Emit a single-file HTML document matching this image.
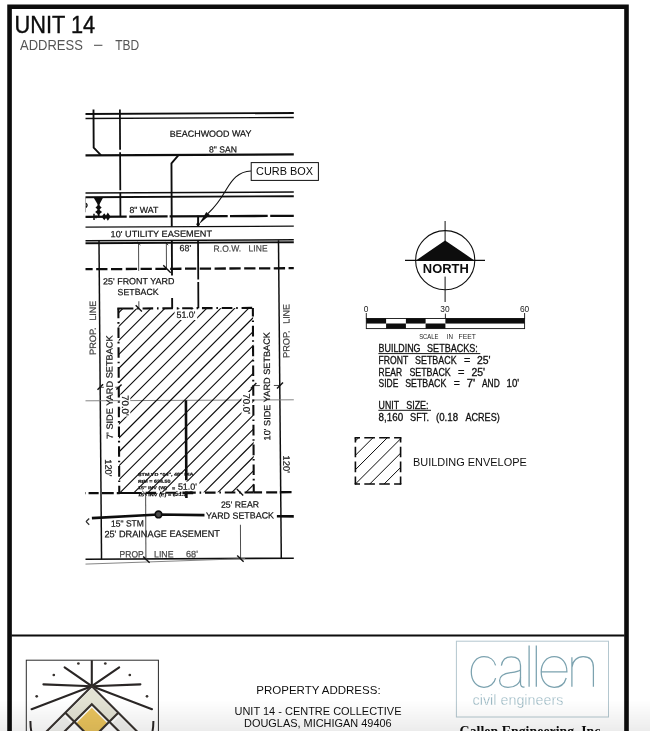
<!DOCTYPE html>
<html><head><meta charset="utf-8"><title>Unit 14</title>
<style>
html,body{margin:0;padding:0;background:#fff;}
body{width:650px;height:731px;overflow:hidden;font-family:"Liberation Sans",sans-serif;}
svg{display:block;}
svg text{font-family:"Liberation Sans",sans-serif;}
</style></head><body>
<svg width="650" height="731" viewBox="0 0 650 731">
<defs>
<clipPath id="vp"><rect x="85.5" y="109.6" width="208.3" height="456"/></clipPath>
<clipPath id="env"><polygon points="118.4,308.5 253.1,307.9 253.9,492.0 119.2,492.8"/></clipPath>
<clipPath id="leg"><rect x="355.4" y="437.8" width="45.2" height="46.2"/></clipPath>
<clipPath id="logoclip"><rect x="26.3" y="660.2" width="132" height="71"/></clipPath>
<filter id="soft" x="0" y="0" width="650" height="731" filterUnits="userSpaceOnUse"><feGaussianBlur stdDeviation="0.45"/></filter>
<linearGradient id="shade" x1="0" y1="0" x2="0" y2="1">
<stop offset="0" stop-color="#000" stop-opacity="0"/>
<stop offset="1" stop-color="#000" stop-opacity="0.075"/>
</linearGradient>
</defs>
<rect width="650" height="731" fill="#fff"/>
<g filter="url(#soft)">
<rect width="650" height="731" fill="#fff"/>

<!-- frame -->
<path d="M9.55 731 V6.75 H626.5 V731" fill="none" stroke="#0a0a0a" stroke-width="4.6" stroke-linejoin="miter"/>
<line x1="11.50" y1="635.40" x2="624.50" y2="635.40" stroke="#0a0a0a" stroke-width="2.0" />
<text x="14.60" y="32.90" font-size="23" fill="#0a0a0a" textLength="80.60" lengthAdjust="spacingAndGlyphs" stroke="#0a0a0a" stroke-width="0.35">UNIT 14</text>
<text x="20.00" y="50.30" font-size="14.4" fill="#555" textLength="62.80" lengthAdjust="spacingAndGlyphs" >ADDRESS</text>
<line x1="94.00" y1="45.30" x2="102.40" y2="45.30" stroke="#555" stroke-width="1.1" />
<text x="115.20" y="50.30" font-size="14.4" fill="#555" textLength="24.00" lengthAdjust="spacingAndGlyphs" >TBD</text>
<g clip-path="url(#vp)"><g transform="rotate(-0.28 190.0 335.0)">
<line x1="60.00" y1="113.50" x2="320.00" y2="113.50" stroke="#111" stroke-width="1.9" />
<line x1="60.00" y1="118.00" x2="320.00" y2="118.00" stroke="#111" stroke-width="1.3" />
<line x1="60.00" y1="154.90" x2="320.00" y2="154.90" stroke="#111" stroke-width="2.1" />
<line x1="60.00" y1="192.50" x2="320.00" y2="192.50" stroke="#111" stroke-width="1.5" />
<line x1="60.00" y1="196.70" x2="320.00" y2="196.70" stroke="#111" stroke-width="1.9" />
<path d="M60 216.3 H127.3 M129.8 216.3 H168.2 M170.2 216.3 H228.3 M230.6 216.3 H268.3 M270.8 216.3 H320" stroke="#111" stroke-width="2.3" fill="none"/>
<line x1="60.00" y1="226.60" x2="320.00" y2="226.60" stroke="#111" stroke-width="1.2" />
<line x1="60.00" y1="240.30" x2="320.00" y2="240.30" stroke="#111" stroke-width="1.6" />
<line x1="60.00" y1="242.70" x2="320.00" y2="242.70" stroke="#111" stroke-width="1.9" />
<path d="M94.6 100 V147.2 L102 154.9" fill="none" stroke="#111" stroke-width="1.9"/>
<path d="M121 100 V149.3 M121 151.8 V189.8 M121 192.2 V216" fill="none" stroke="#111" stroke-width="1.8"/>
<path d="M179.6 154.9 L172.3 163.2 V226.6 M172.3 240.1 V275.5 M172.3 298 V308.2" fill="none" stroke="#111" stroke-width="1.9"/>
<path d="M198.5 240.6 V279.5 M198.5 282 V308.2" fill="none" stroke="#111" stroke-width="1.8"/>
<polygon points="94.4,197.2 103.8,197.2 100.2,203.8 98.2,203.8" fill="#111"/>
<path d="M99.2 203 V216" stroke="#111" stroke-width="2.0"/>
<polygon points="99.2,204.4 102.3,207 99.9,209.2 102.7,211.6 99.2,214.2 95.7,211.6 98.5,209.2 96.1,207" fill="#111"/>
<polygon points="102.2,216.3 104.8,212.8 106.6,215 108.4,212.2 111.2,216.3 108.4,220.4 106.6,217.6 104.8,219.8" fill="#111"/>
<line x1="94.60" y1="213.20" x2="94.60" y2="219.60" stroke="#111" stroke-width="1.5" />
<line x1="96.60" y1="214.60" x2="96.60" y2="218.00" stroke="#111" stroke-width="0.9" />
<line x1="86.00" y1="197.00" x2="86.00" y2="211.80" stroke="#444" stroke-width="1.0" />
<path d="M86.6 202.8 q2.2 2 0 4.2" stroke="#111" stroke-width="1.4" fill="none"/>
<line x1="99.45" y1="240.60" x2="100.45" y2="558.70" stroke="#111" stroke-width="1.5" />
<line x1="278.95" y1="240.60" x2="280.20" y2="558.70" stroke="#111" stroke-width="1.5" />
<line x1="81.7" y1="268.7" x2="320" y2="268.7" stroke="#111" stroke-width="2.3" stroke-dasharray="11.3 3.5"/>
<line x1="139.00" y1="242.50" x2="139.00" y2="270.60" stroke="#222" stroke-width="0.8" />
<line x1="166.80" y1="242.50" x2="166.80" y2="269.00" stroke="#222" stroke-width="0.8" />
<line x1="163.62" y1="265.19" x2="171.02" y2="272.59" stroke="#111" stroke-width="1.4" />
<line x1="137.65" y1="241.65" x2="140.85" y2="244.85" stroke="#111" stroke-width="0.9" />
<line x1="165.45" y1="241.79" x2="168.65" y2="244.99" stroke="#111" stroke-width="0.9" />
<line x1="139.00" y1="301.00" x2="139.00" y2="308.00" stroke="#222" stroke-width="0.8" />
<line x1="135.83" y1="305.05" x2="142.03" y2="311.25" stroke="#111" stroke-width="1.4" />
<line x1="60.00" y1="400.30" x2="320.00" y2="400.30" stroke="#777" stroke-width="0.9" />
<line x1="60.00" y1="558.70" x2="320.00" y2="558.70" stroke="#111" stroke-width="1.6" />
<path d="M60 564.3 L244 558.9" stroke="#777" stroke-width="0.9" fill="none"/>
<path d="M80 492.7 H85.2 M87.8 492.7 H97.9 M101.2 492.7 H113 M116 492.7 H119 M253 492.7 H261.3 M265.4 492.7 H276.4 M279 492.7 H290.8 M293.5 492.7 H300" stroke="#111" stroke-width="2.3" fill="none"/>
</g></g>
<g clip-path="url(#env)" stroke="#0a0a0a" stroke-width="1.1">
<line x1="-82.60" y1="500" x2="117.40" y2="300"/>
<line x1="-68.65" y1="500" x2="131.35" y2="300"/>
<line x1="-54.70" y1="500" x2="145.30" y2="300"/>
<line x1="-40.75" y1="500" x2="159.25" y2="300"/>
<line x1="-26.80" y1="500" x2="173.20" y2="300"/>
<line x1="-12.85" y1="500" x2="187.15" y2="300"/>
<line x1="1.10" y1="500" x2="201.10" y2="300"/>
<line x1="15.05" y1="500" x2="215.05" y2="300"/>
<line x1="29.00" y1="500" x2="229.00" y2="300"/>
<line x1="42.95" y1="500" x2="242.95" y2="300"/>
<line x1="56.90" y1="500" x2="256.90" y2="300"/>
<line x1="70.85" y1="500" x2="270.85" y2="300"/>
<line x1="84.80" y1="500" x2="284.80" y2="300"/>
<line x1="98.75" y1="500" x2="298.75" y2="300"/>
<line x1="112.70" y1="500" x2="312.70" y2="300"/>
<line x1="126.65" y1="500" x2="326.65" y2="300"/>
<line x1="140.60" y1="500" x2="340.60" y2="300"/>
<line x1="154.55" y1="500" x2="354.55" y2="300"/>
<line x1="168.50" y1="500" x2="368.50" y2="300"/>
<line x1="182.45" y1="500" x2="382.45" y2="300"/>
<line x1="196.40" y1="500" x2="396.40" y2="300"/>
<line x1="210.35" y1="500" x2="410.35" y2="300"/>
<line x1="224.30" y1="500" x2="424.30" y2="300"/>
<line x1="238.25" y1="500" x2="438.25" y2="300"/>
<line x1="252.20" y1="500" x2="452.20" y2="300"/>
</g>
<rect x="174.6" y="309.4" width="22.6" height="10.6" fill="#fff"/>
<rect x="176.6" y="481.6" width="22.8" height="9.8" fill="#fff"/>
<rect x="120.2" y="394.5" width="10.1" height="22" fill="#fff"/>
<rect x="241.5" y="392" width="10.7" height="22.5" fill="#fff"/>
<g clip-path="url(#vp)"><g transform="rotate(-0.28 190.0 335.0)">
<path d="M118.5 308.2 V492.6" fill="none" stroke="#111" stroke-width="2.1" stroke-dasharray="10.6 3.8 1.6 3.8" stroke-dashoffset="0.9"/>
<path d="M253 308.2 V492.6" fill="none" stroke="#111" stroke-width="2.1" stroke-dasharray="10.6 3.8 1.6 3.8" stroke-dashoffset="1.9"/>
<path d="M117.45 308.2 H123 M117.45 492.7 H141" fill="none" stroke="#111" stroke-width="2.1"/>
<path d="M122.9 308.2 H254.05" fill="none" stroke="#111" stroke-width="2.1" stroke-dasharray="10.6 3.8 1.6 3.8"/>
<path d="M144.8 492.7 H253" fill="none" stroke="#111" stroke-width="2.1" stroke-dasharray="10.6 3.8 1.6 3.8"/>
<path d="M185.6 400.3 V480.2 M185.6 491.5 V498" fill="none" stroke="#111" stroke-width="2.6"/>
<line x1="181.60" y1="492.80" x2="192.40" y2="492.80" stroke="#111" stroke-width="2.8" />
<line x1="100.00" y1="386.90" x2="103.60" y2="386.90" stroke="#222" stroke-width="0.8" />
<line x1="115.00" y1="386.90" x2="118.50" y2="386.90" stroke="#222" stroke-width="0.8" />
<line x1="97.25" y1="389.36" x2="102.85" y2="383.76" stroke="#111" stroke-width="1.4" />
<line x1="116.15" y1="389.25" x2="121.35" y2="384.05" stroke="#111" stroke-width="1.4" />
<line x1="253.00" y1="385.90" x2="259.60" y2="385.90" stroke="#222" stroke-width="0.8" />
<line x1="273.60" y1="385.90" x2="279.60" y2="385.90" stroke="#222" stroke-width="0.8" />
<line x1="250.55" y1="388.81" x2="256.15" y2="383.21" stroke="#111" stroke-width="1.4" />
<line x1="276.75" y1="388.94" x2="282.75" y2="382.94" stroke="#111" stroke-width="1.4" />
<line x1="144.80" y1="492.70" x2="144.80" y2="560.00" stroke="#666" stroke-width="1.2" />
<line x1="142.10" y1="556.19" x2="148.50" y2="562.59" stroke="#111" stroke-width="1.4" />
<line x1="141.43" y1="490.58" x2="146.23" y2="495.38" stroke="#111" stroke-width="0.9" />
<line x1="239.50" y1="525.00" x2="239.50" y2="558.70" stroke="#222" stroke-width="0.8" />
<line x1="236.11" y1="555.65" x2="242.51" y2="562.05" stroke="#111" stroke-width="1.4" />
<line x1="236.03" y1="489.24" x2="242.43" y2="495.64" stroke="#111" stroke-width="1.4" />
<path d="M91 517.6 L157.5 514.3 L203.6 515.2 M276 516.6 L300 517" fill="none" stroke="#111" stroke-width="2.6"/>
<circle cx="157.6" cy="514.3" r="3.3" fill="#4a4a4a" stroke="#111" stroke-width="1.7"/>
<path d="M88.3 518.0 L85.2 521.1 L88.3 524.3" fill="none" stroke="#333" stroke-width="1.3"/>
<text x="170.77" y="136.80" font-size="8.9" fill="#111" stroke="#111" stroke-width="0.2" textLength="81.60" lengthAdjust="spacingAndGlyphs" >BEACHWOOD WAY</text>
<text x="209.89" y="152.59" font-size="8.8" fill="#111" stroke="#111" stroke-width="0.2" textLength="28.00" lengthAdjust="spacingAndGlyphs" >8&quot; SAN</text>
<text x="130.00" y="212.80" font-size="8.8" fill="#111" stroke="#111" stroke-width="0.2" textLength="29.00" lengthAdjust="spacingAndGlyphs" >8&quot; WAT</text>
<text x="111.08" y="236.81" font-size="9.1" fill="#111" stroke="#111" stroke-width="0.2" textLength="101.40" lengthAdjust="spacingAndGlyphs" >10' UTILITY EASEMENT</text>
<text x="180.01" y="251.15" font-size="9" fill="#111" stroke="#111" stroke-width="0.2" textLength="11.60" lengthAdjust="spacingAndGlyphs" >68'</text>
<text x="214.01" y="251.82" font-size="9" fill="#444" stroke="#444" stroke-width="0.2" textLength="27.50" lengthAdjust="spacingAndGlyphs" >R.O.W.</text>
<text x="249.01" y="251.79" font-size="9" fill="#444" stroke="#444" stroke-width="0.2" textLength="19.00" lengthAdjust="spacingAndGlyphs" >LINE</text>
<text x="103.25" y="284.07" font-size="9" fill="#111" stroke="#111" stroke-width="0.2" textLength="71.40" lengthAdjust="spacingAndGlyphs" >25' FRONT YARD</text>
<text x="117.79" y="294.85" font-size="9" fill="#111" stroke="#111" stroke-width="0.2" textLength="41.00" lengthAdjust="spacingAndGlyphs" >SETBACK</text>
<text x="176.48" y="317.83" font-size="9" fill="#111" stroke="#111" stroke-width="0.2" textLength="19.20" lengthAdjust="spacingAndGlyphs" >51.0'</text>
<text x="95.90" y="354.54" font-size="9.2" fill="#3a3a3a" stroke="#3a3a3a" stroke-width="0.2" textLength="27.50" lengthAdjust="spacingAndGlyphs" transform="rotate(-90 95.90 354.54)" >PROP.</text>
<text x="96.07" y="320.14" font-size="9.2" fill="#3a3a3a" stroke="#3a3a3a" stroke-width="0.2" textLength="19.80" lengthAdjust="spacingAndGlyphs" transform="rotate(-90 96.07 320.14)" >LINE</text>
<text x="112.39" y="438.62" font-size="9" fill="#111" stroke="#111" stroke-width="0.2" textLength="103.60" lengthAdjust="spacingAndGlyphs" transform="rotate(-90 112.39 438.62)" >7' SIDE YARD SETBACK</text>
<text x="269.78" y="440.79" font-size="9" fill="#111" stroke="#111" stroke-width="0.2" textLength="108.40" lengthAdjust="spacingAndGlyphs" transform="rotate(-90 269.78 440.79)" >10' SIDE YARD SETBACK</text>
<text x="289.39" y="358.49" font-size="9.2" fill="#3a3a3a" stroke="#3a3a3a" stroke-width="0.2" textLength="27.50" lengthAdjust="spacingAndGlyphs" transform="rotate(-90 289.39 358.49)" >PROP.</text>
<text x="289.55" y="324.29" font-size="9.2" fill="#3a3a3a" stroke="#3a3a3a" stroke-width="0.2" textLength="19.80" lengthAdjust="spacingAndGlyphs" transform="rotate(-90 289.55 324.29)" >LINE</text>
<text x="121.61" y="394.87" font-size="9.5" fill="#111" stroke="#111" stroke-width="0.2" textLength="20.60" lengthAdjust="spacingAndGlyphs" transform="rotate(90 121.61 394.87)" >70.0'</text>
<text x="243.01" y="393.66" font-size="9.5" fill="#111" stroke="#111" stroke-width="0.2" textLength="20.60" lengthAdjust="spacingAndGlyphs" transform="rotate(90 243.01 393.66)" >70.0'</text>
<text x="104.49" y="458.79" font-size="9.3" fill="#111" stroke="#111" stroke-width="0.2" textLength="17.40" lengthAdjust="spacingAndGlyphs" transform="rotate(90 104.49 458.79)" >120'</text>
<text x="282.61" y="456.06" font-size="9.3" fill="#111" stroke="#111" stroke-width="0.2" textLength="17.40" lengthAdjust="spacingAndGlyphs" transform="rotate(90 282.61 456.06)" >120'</text>
<text x="137.31" y="475.75" font-size="4.4" fill="#111" stroke="#111" stroke-width="0.2" textLength="55.50" lengthAdjust="spacingAndGlyphs" font-weight="bold" >STM YD &quot;04&quot;, 48&quot; DIA</text>
<text x="137.28" y="482.65" font-size="4.4" fill="#111" stroke="#111" stroke-width="0.2" textLength="32.40" lengthAdjust="spacingAndGlyphs" font-weight="bold" >RIM = 624.50</text>
<text x="137.25" y="489.05" font-size="4.4" fill="#111" stroke="#111" stroke-width="0.2" textLength="29.00" lengthAdjust="spacingAndGlyphs" font-weight="bold" >15&quot; INV (W)</text>
<text x="171.24" y="489.81" font-size="5.5" fill="#111" stroke="#111" stroke-width="0.2" textLength="3.20" lengthAdjust="spacingAndGlyphs" font-weight="bold" >=</text>
<text x="177.14" y="489.74" font-size="9" fill="#111" stroke="#111" stroke-width="0.2" textLength="19.20" lengthAdjust="spacingAndGlyphs" >51.0'</text>
<text x="137.21" y="496.05" font-size="4.4" fill="#111" stroke="#111" stroke-width="0.2" textLength="48.50" lengthAdjust="spacingAndGlyphs" font-weight="bold" >15&quot; INV (E) = 621.3</text>
<text x="220.16" y="507.85" font-size="9" fill="#111" stroke="#111" stroke-width="0.2" textLength="38.00" lengthAdjust="spacingAndGlyphs" >25' REAR</text>
<text x="205.10" y="518.88" font-size="9" fill="#111" stroke="#111" stroke-width="0.2" textLength="68.00" lengthAdjust="spacingAndGlyphs" >YARD SETBACK</text>
<text x="110.06" y="526.31" font-size="9" fill="#111" stroke="#111" stroke-width="0.2" textLength="33.00" lengthAdjust="spacingAndGlyphs" >15&quot; STM</text>
<text x="103.41" y="536.98" font-size="9.5" fill="#111" stroke="#111" stroke-width="0.2" textLength="115.60" lengthAdjust="spacingAndGlyphs" >25' DRAINAGE EASEMENT</text>
<text x="118.51" y="557.26" font-size="9.3" fill="#444" stroke="#444" stroke-width="0.2" textLength="25.40" lengthAdjust="spacingAndGlyphs" >PROP.</text>
<text x="152.91" y="557.32" font-size="9.3" fill="#444" stroke="#444" stroke-width="0.2" textLength="19.60" lengthAdjust="spacingAndGlyphs" >LINE</text>
<text x="184.91" y="557.28" font-size="9.3" fill="#444" stroke="#444" stroke-width="0.2" textLength="12.00" lengthAdjust="spacingAndGlyphs" >68'</text>
</g></g>
<rect x="251.2" y="162.6" width="67.2" height="17.8" fill="#fff" stroke="#111" stroke-width="1"/>
<text x="256.00" y="175.10" font-size="11" fill="#0a0a0a" textLength="57.00" lengthAdjust="spacingAndGlyphs" >CURB BOX</text>
<path d="M251 171 C238 171.5 232 180 226 190 C222 197 216 206 208 213.5" fill="none" stroke="#111" stroke-width="1.1"/>
<polygon points="198.9,224.2 206.3,211.9 209.9,215.1" fill="#111"/>
<line x1="198.10" y1="215.80" x2="198.10" y2="226.60" stroke="#111" stroke-width="2.0" />
<circle cx="198.1" cy="224.2" r="1.6" fill="#111"/>
<circle cx="445.2" cy="260.2" r="29.6" fill="none" stroke="#111" stroke-width="1.1"/>
<line x1="405.00" y1="260.40" x2="485.00" y2="260.40" stroke="#111" stroke-width="1.1" />
<line x1="445.10" y1="221.00" x2="445.10" y2="241.00" stroke="#111" stroke-width="1.0" />
<line x1="445.10" y1="276.60" x2="445.10" y2="302.00" stroke="#111" stroke-width="1.0" />
<polygon points="445.1,240.4 474.4,260.4 416,260.4" fill="#0a0a0a"/>
<text x="422.80" y="273.10" font-size="12.9" fill="#0a0a0a" textLength="46.00" lengthAdjust="spacingAndGlyphs" font-weight="bold" >NORTH</text>
<rect x="366.3" y="318.5" width="158.3" height="10.1" fill="#fff" stroke="#111" stroke-width="0.9"/>
<rect x="366.3" y="318.5" width="19.8" height="5.05" fill="#0a0a0a"/>
<rect x="405.9" y="318.5" width="19.7" height="5.05" fill="#0a0a0a"/>
<rect x="445.4" y="318.5" width="79.2" height="5.05" fill="#0a0a0a"/>
<rect x="386.1" y="323.5" width="19.8" height="5.05" fill="#0a0a0a"/>
<rect x="425.6" y="323.5" width="19.8" height="5.05" fill="#0a0a0a"/>
<line x1="366.30" y1="313.00" x2="366.30" y2="318.50" stroke="#111" stroke-width="0.9" />
<line x1="445.40" y1="313.60" x2="445.40" y2="318.50" stroke="#111" stroke-width="0.9" />
<line x1="524.60" y1="313.00" x2="524.60" y2="318.50" stroke="#111" stroke-width="0.9" />
<text x="366.00" y="312.20" font-size="8.4" fill="#222" text-anchor="middle" >0</text>
<text x="445.00" y="312.20" font-size="8.4" fill="#222" text-anchor="middle" >30</text>
<text x="524.60" y="312.20" font-size="8.4" fill="#222" text-anchor="middle" >60</text>
<text x="419.20" y="338.70" font-size="7.6" fill="#222" textLength="19.20" lengthAdjust="spacingAndGlyphs" >SCALE</text>
<text x="446.80" y="338.70" font-size="7.6" fill="#222" textLength="6.20" lengthAdjust="spacingAndGlyphs" >IN</text>
<text x="458.60" y="338.70" font-size="7.6" fill="#222" textLength="17.20" lengthAdjust="spacingAndGlyphs" >FEET</text>
<text x="378.60" y="352.40" font-size="10.1" fill="#111" stroke="#111" stroke-width="0.3" textLength="41.90" lengthAdjust="spacingAndGlyphs" >BUILDING</text>
<text x="427.10" y="352.40" font-size="10.1" fill="#111" stroke="#111" stroke-width="0.3" textLength="50.70" lengthAdjust="spacingAndGlyphs" >SETBACKS:</text>
<line x1="378.40" y1="353.60" x2="480.30" y2="353.60" stroke="#151515" stroke-width="1.0" />
<text x="378.60" y="364.00" font-size="10.1" fill="#111" stroke="#111" stroke-width="0.3" textLength="29.60" lengthAdjust="spacingAndGlyphs" >FRONT</text>
<text x="415.00" y="364.00" font-size="10.1" fill="#111" stroke="#111" stroke-width="0.3" textLength="41.60" lengthAdjust="spacingAndGlyphs" >SETBACK</text>
<text x="464.00" y="364.00" font-size="10.1" fill="#111" stroke="#111" stroke-width="0.3" textLength="6.40" lengthAdjust="spacingAndGlyphs" >=</text>
<text x="477.00" y="364.00" font-size="10.1" fill="#111" stroke="#111" stroke-width="0.3" textLength="13.60" lengthAdjust="spacingAndGlyphs" >25'</text>
<text x="378.60" y="375.70" font-size="10.1" fill="#111" stroke="#111" stroke-width="0.3" textLength="23.40" lengthAdjust="spacingAndGlyphs" >REAR</text>
<text x="409.40" y="375.70" font-size="10.1" fill="#111" stroke="#111" stroke-width="0.3" textLength="41.30" lengthAdjust="spacingAndGlyphs" >SETBACK</text>
<text x="458.00" y="375.70" font-size="10.1" fill="#111" stroke="#111" stroke-width="0.3" textLength="6.50" lengthAdjust="spacingAndGlyphs" >=</text>
<text x="471.40" y="375.70" font-size="10.1" fill="#111" stroke="#111" stroke-width="0.3" textLength="13.60" lengthAdjust="spacingAndGlyphs" >25'</text>
<text x="378.60" y="387.40" font-size="10.1" fill="#111" stroke="#111" stroke-width="0.3" textLength="19.70" lengthAdjust="spacingAndGlyphs" >SIDE</text>
<text x="405.20" y="387.40" font-size="10.1" fill="#111" stroke="#111" stroke-width="0.3" textLength="41.10" lengthAdjust="spacingAndGlyphs" >SETBACK</text>
<text x="453.70" y="387.40" font-size="10.1" fill="#111" stroke="#111" stroke-width="0.3" textLength="6.10" lengthAdjust="spacingAndGlyphs" >=</text>
<text x="466.70" y="387.40" font-size="10.1" fill="#111" stroke="#111" stroke-width="0.3" textLength="8.50" lengthAdjust="spacingAndGlyphs" >7'</text>
<text x="482.00" y="387.40" font-size="10.1" fill="#111" stroke="#111" stroke-width="0.3" textLength="17.70" lengthAdjust="spacingAndGlyphs" >AND</text>
<text x="506.60" y="387.40" font-size="10.1" fill="#111" stroke="#111" stroke-width="0.3" textLength="12.60" lengthAdjust="spacingAndGlyphs" >10'</text>
<text x="378.60" y="409.00" font-size="10.1" fill="#111" stroke="#111" stroke-width="0.3" textLength="20.40" lengthAdjust="spacingAndGlyphs" >UNIT</text>
<text x="406.20" y="409.00" font-size="10.1" fill="#111" stroke="#111" stroke-width="0.3" textLength="22.40" lengthAdjust="spacingAndGlyphs" >SIZE:</text>
<line x1="378.40" y1="410.30" x2="431.00" y2="410.30" stroke="#151515" stroke-width="1.0" />
<text x="378.60" y="420.70" font-size="10.1" fill="#111" stroke="#111" stroke-width="0.3" textLength="24.60" lengthAdjust="spacingAndGlyphs" >8,160</text>
<text x="410.00" y="420.70" font-size="10.1" fill="#111" stroke="#111" stroke-width="0.3" textLength="19.00" lengthAdjust="spacingAndGlyphs" >SFT.</text>
<text x="436.00" y="420.70" font-size="10.1" fill="#111" stroke="#111" stroke-width="0.3" textLength="22.00" lengthAdjust="spacingAndGlyphs" >(0.18</text>
<text x="465.50" y="420.70" font-size="10.1" fill="#111" stroke="#111" stroke-width="0.3" textLength="34.20" lengthAdjust="spacingAndGlyphs" >ACRES)</text>
<g clip-path="url(#leg)" stroke="#0a0a0a" stroke-width="1.0">
<line x1="296.35" y1="500" x2="376.35" y2="420"/>
<line x1="310.70" y1="500" x2="390.70" y2="420"/>
<line x1="325.05" y1="500" x2="405.05" y2="420"/>
<line x1="339.40" y1="500" x2="419.40" y2="420"/>
<line x1="353.75" y1="500" x2="433.75" y2="420"/>
<line x1="368.10" y1="500" x2="448.10" y2="420"/>
</g>
<line x1="355.4" y1="437.8" x2="400.6" y2="437.8" stroke="#0a0a0a" stroke-width="1.6" stroke-dasharray="10.6 4.3" stroke-dashoffset="6.0" stroke-linecap="butt"/>
<line x1="400.6" y1="437.8" x2="400.6" y2="484.0" stroke="#0a0a0a" stroke-width="1.6" stroke-dasharray="10.6 4.3" stroke-dashoffset="6.0" stroke-linecap="butt"/>
<line x1="355.4" y1="484.0" x2="400.6" y2="484.0" stroke="#0a0a0a" stroke-width="1.6" stroke-dasharray="10.6 4.3" stroke-dashoffset="6.0" stroke-linecap="butt"/>
<line x1="355.4" y1="437.8" x2="355.4" y2="484.0" stroke="#0a0a0a" stroke-width="1.6" stroke-dasharray="10.6 4.3" stroke-dashoffset="6.0" stroke-linecap="butt"/>
<rect x="354.59999999999997" y="437.0" width="1.6" height="1.6" fill="#0a0a0a"/>
<rect x="399.8" y="437.0" width="1.6" height="1.6" fill="#0a0a0a"/>
<rect x="354.59999999999997" y="483.2" width="1.6" height="1.6" fill="#0a0a0a"/>
<rect x="399.8" y="483.2" width="1.6" height="1.6" fill="#0a0a0a"/>
<text x="413.00" y="465.60" font-size="11" fill="#111" textLength="113.80" lengthAdjust="spacingAndGlyphs" >BUILDING ENVELOPE</text>
<text x="256.30" y="694.40" font-size="11.2" fill="#111" textLength="124.30" lengthAdjust="spacingAndGlyphs" >PROPERTY ADDRESS:</text>
<text x="234.50" y="715.00" font-size="11" fill="#111" textLength="167.00" lengthAdjust="spacingAndGlyphs" >UNIT 14 - CENTRE COLLECTIVE</text>
<text x="244.00" y="727.30" font-size="11" fill="#111" textLength="147.70" lengthAdjust="spacingAndGlyphs" >DOUGLAS, MICHIGAN 49406</text>
<rect x="26.3" y="660.2" width="132.1" height="80" fill="#fff" stroke="#2a2a2a" stroke-width="1.0"/>
<g clip-path="url(#logoclip)">
<polygon points="91.8,688.4000000000001 65.6,714.6 74.19999999999999,723.2 91.8,705.6 109.4,723.2 118.0,714.6" fill="#e3e2d3"/>
<polygon points="91.8,707.7 76.3,723.2 91.8,738.7 107.3,723.2" fill="#e9c35c"/>
<polygon points="64.3,716.2 72.8,724.7 65.8,731.7 48.8,731.7" fill="#f1f1ee"/>
<polygon points="119.3,716.2 110.8,724.7 117.8,731.7 134.8,731.7" fill="#f1f1ee"/>
<g stroke="#2b2725" stroke-width="2.1" fill="none" stroke-linecap="round">
<path d="M91.8 660.5 V686.2"/>
<path d="M64.6 667.3 L91.8 686.2 L119.2 667.3"/>
<path d="M43.4 684.4 L91.8 686.2 L140.4 684.4"/>
<path d="M31.6 709.2 L91.8 686.2 L152.0 709.2"/>
</g>
<g stroke="#37322f" stroke-width="2.1" fill="none">
<path d="M45.8 732.2 L91.8 686.2 L137.8 732.2"/>
<path d="M61.8 734.2 L91.8 704.2 L121.8 734.2"/>
<path d="M65.3 712.7 L85.8 733.2"/>
<path d="M118.3 712.7 L97.8 733.2"/>
</g>
<g fill="#37322f">
<circle cx="78.4" cy="663.5" r="1.35"/>
<circle cx="105.3" cy="663.5" r="1.35"/>
<circle cx="53.8" cy="675" r="1.35"/>
<circle cx="129.8" cy="675" r="1.35"/>
<circle cx="36.7" cy="696.3" r="1.35"/>
<circle cx="147.0" cy="696.3" r="1.35"/>
</g>
<path d="M30.4 721 Q30.4 727 31.4 732" stroke="#2b2725" stroke-width="2" fill="none"/>
<path d="M153.4 721 Q153.4 727 152.4 732" stroke="#2b2725" stroke-width="2" fill="none"/>
</g>
<rect x="456.4" y="641.2" width="152.1" height="75.8" fill="#fff" stroke="#b4c7cf" stroke-width="1"/>
<g fill="none" stroke="#7ba2af" stroke-width="1.25" stroke-linecap="butt">
<path d="M495.6 665.4 C494.2 660.0 489.6 656.7 484.0 656.7 C476.4 656.7 471.3 663.2 471.3 672 C471.3 680.8 476.4 687.3 484.0 687.3 C489.8 687.3 494.4 683.6 495.6 678.2"/>
<path d="M501.4 665.6 C502.2 660.2 505.6 656.8 511.2 656.8 C517.2 656.8 520.5 659.8 520.5 665.4 V683.2 C520.5 686 521.6 687.3 524.6 687.0"/>
<path d="M520.5 670.0 C518.6 671.6 515.2 672.0 510.6 672.6 C503.6 673.5 499.6 675.6 499.6 680.6 C499.6 684.8 503.0 687.4 508.0 687.4 C514.8 687.4 520.5 683.6 520.5 677.2"/>
<path d="M529.1 645.5 V686.8 M536.3 645.5 V686.8"/>
<path d="M541.2 671.8 H566.9 C566.9 663.0 562.0 656.7 554.2 656.7 C546.4 656.7 541.2 663.2 541.2 672 C541.2 680.8 546.4 687.3 554.2 687.3 C560.2 687.3 564.6 683.8 566.2 678.0"/>
<path d="M571.9 657.3 V686.8 M571.9 667.4 C572.6 660.8 577.2 656.7 583.2 656.7 C589.8 656.7 593.4 660.8 593.4 667.6 V686.8"/>
</g>
<text x="472.60" y="705.30" font-size="14.1" fill="#84a9b6" textLength="90.80" lengthAdjust="spacingAndGlyphs" stroke="#fff" stroke-width="0.4">civil engineers</text>
<text x="459.60" y="736.40" font-size="14" fill="#0a0a0a" textLength="144.40" lengthAdjust="spacingAndGlyphs" font-weight="bold" style="font-family:'Liberation Serif',serif">Callen Engineering, Inc.</text>
</g>
<rect x="0" y="700" width="650" height="31" fill="url(#shade)"/>
</svg></body></html>
